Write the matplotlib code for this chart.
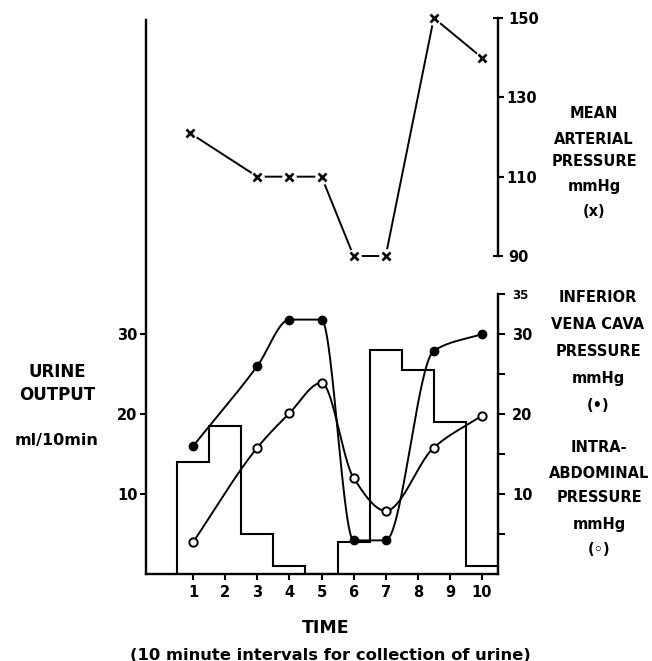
import numpy as np
import matplotlib
matplotlib.use("Agg")
import matplotlib.pyplot as plt

# ------------------------------
# data
# ------------------------------
time_map = [0.9, 3, 4, 5, 6, 7, 8.5, 10]
map_vals = [121, 110, 110, 110, 90, 90, 150, 140]

time_p = [1, 3, 4, 5, 6, 7, 8.5, 10]
ivc = [16, 26, 31.8, 31.8, 4.2, 4.2, 27.9, 30]
iap = [4, 15.8, 20.1, 23.9, 12, 7.9, 15.8, 19.8]

urine_edges = [0.5, 1.5, 2.5, 3.5, 4.5, 5.5, 6.5, 7.5, 8.5, 9.5, 10.5]
urine = [14, 18.5, 5, 1, 0, 4, 28, 25.5, 19, 1]

x_ticks = [1, 2, 3, 4, 5, 6, 7, 8, 9, 10]
map_ticks = [90, 110, 130, 150]


def smooth(x, y, n=400):
    # monotone cubic (Fritsch-Carlson) through the points, for the hand drawn look
    x = np.asarray(x, float)
    y = np.asarray(y, float)
    h = np.diff(x)
    dl = np.diff(y) / h
    d = np.zeros_like(y)
    d[0], d[-1] = dl[0], dl[-1]
    for k in range(1, len(x) - 1):
        if dl[k - 1] * dl[k] > 0:
            w1 = 2 * h[k] + h[k - 1]
            w2 = h[k] + 2 * h[k - 1]
            d[k] = (w1 + w2) / (w1 / dl[k - 1] + w2 / dl[k])
    xs = np.linspace(x[0], x[-1], n)
    idx = np.clip(np.searchsorted(x, xs) - 1, 0, len(x) - 2)
    t = (xs - x[idx]) / h[idx]
    h00 = 2 * t**3 - 3 * t**2 + 1
    h10 = t**3 - 2 * t**2 + t
    h01 = -2 * t**3 + 3 * t**2
    h11 = t**3 - t**2
    ys = h00 * y[idx] + h10 * h[idx] * d[idx] + h01 * y[idx + 1] + h11 * h[idx] * d[idx + 1]
    return xs, ys


W, H = 652, 661
fig = plt.figure(figsize=(W / 100, H / 100), dpi=100)
fnt = dict(family="DejaVu Sans", fontweight="bold")

L, R = 146 / W, 498 / W
lw_ax = 1.7

# ------------------------------
# lower panel
# ------------------------------
ax = fig.add_axes([L, (H - 574) / H, R - L, (574 - 20) / H])
ax.set_facecolor("none")
ax.set_xlim(-0.47, 10.5)
ax.set_ylim(0, 69.25)
for s in ["top", "right"]:
    ax.spines[s].set_visible(False)
for s in ["left", "bottom"]:
    ax.spines[s].set_linewidth(lw_ax)

ax.stairs(urine, urine_edges, baseline=0, color="black", lw=1.5, zorder=2)

xs, ys = smooth(time_p, ivc)
ax.plot(xs, ys, color="black", lw=1.4, zorder=3)
ax.plot(time_p, ivc, "o", color="black", ms=6, zorder=4)

xs, ys = smooth(time_p, iap)
ax.plot(xs, ys, color="black", lw=1.4, zorder=3)
ax.plot(time_p, iap, "o", mfc="white", mec="black", mew=1.4, ms=6, zorder=4)

ax.set_xticks(x_ticks)
ax.set_xticklabels([str(v) for v in x_ticks], fontsize=10.5, **fnt)
ax.set_yticks([10, 20, 30])
ax.set_yticklabels(["10", "20", "30"], fontsize=10.5, **fnt)
ax.tick_params(axis="x", direction="out", length=4, width=1.5, pad=4)
ax.tick_params(axis="y", direction="out", length=4, width=1.5, pad=2)

ax2 = ax.twinx()
ax2.set_ylim(0, 69.25)
for s in ["top", "left", "bottom"]:
    ax2.spines[s].set_visible(False)
ax2.spines["right"].set_bounds(0, 35)
ax2.spines["right"].set_linewidth(lw_ax)
ax2.set_yticks([5, 10, 15, 20, 25, 30, 35])
ax2.set_yticklabels(["", "10", "", "20", "", "30", "35"], fontsize=10.5, **fnt)
ax2.get_yticklabels()[-1].set_fontsize(8.5)
ax2.tick_params(axis="y", direction="out", length=5, width=1.5, pad=5)

# ------------------------------
# upper panel (mean arterial pressure)
# ------------------------------
ax3 = fig.add_axes([L, (H - 256) / H, R - L, (256 - 18) / H])
ax3.set_facecolor("none")
ax3.set_xlim(-0.47, 10.5)
ax3.set_ylim(90, 150)
for s in ["top", "left", "bottom"]:
    ax3.spines[s].set_visible(False)
ax3.spines["right"].set_linewidth(lw_ax)
ax3.set_xticks([])
ax3.yaxis.tick_right()
ax3.set_yticks([90, 150])
ax3.set_yticklabels(["90", "150"], fontsize=10.5, **fnt)
ax3.set_yticks([110, 130], minor=True)
ax3.set_yticklabels(["110", "130"], minor=True, fontsize=10.5, **fnt)
ax3.tick_params(axis="y", which="major", direction="inout", length=7, width=1.5, pad=4)
ax3.tick_params(axis="y", which="minor", direction="out", length=4, width=1.5, pad=2)

ax3.plot(time_map, map_vals, color="black", lw=1.4, zorder=2, clip_on=False)
ax3.plot(time_map, map_vals, "o", color="white", ms=9.5, zorder=3, clip_on=False)
ax3.plot(time_map, map_vals, "x", color="black", ms=6, mew=1.9, zorder=4, clip_on=False)

# ------------------------------
# labels
# ------------------------------
def label(x, y, s, size=10.5):
    fig.text(x / W, 1 - y / H, s, ha="center", va="center", fontsize=size, **fnt)


label(57, 372, "URINE", 12)
label(57, 395, "OUTPUT", 12)
label(57, 440, "ml/10min", 11.5)

for y, s in zip([113, 139, 162, 187, 212], ["MEAN", "ARTERIAL", "PRESSURE", "mmHg", "(x)"]):
    label(594, y, s)

for y, s in zip([298, 325, 351, 378, 405], ["INFERIOR", "VENA CAVA", "PRESSURE", "mmHg", "(\u2022)"]):
    label(598, y, s)

for y, s in zip([447, 473, 498, 525, 549], ["INTRA-", "ABDOMINAL", "PRESSURE", "mmHg", "(\u25e6)"]):
    label(599, y, s)

label(326, 628, "TIME", 12.5)
label(330, 655, "(10 minute intervals for collection of urine)", 11.8)

fig.savefig("out.png", dpi=100)
